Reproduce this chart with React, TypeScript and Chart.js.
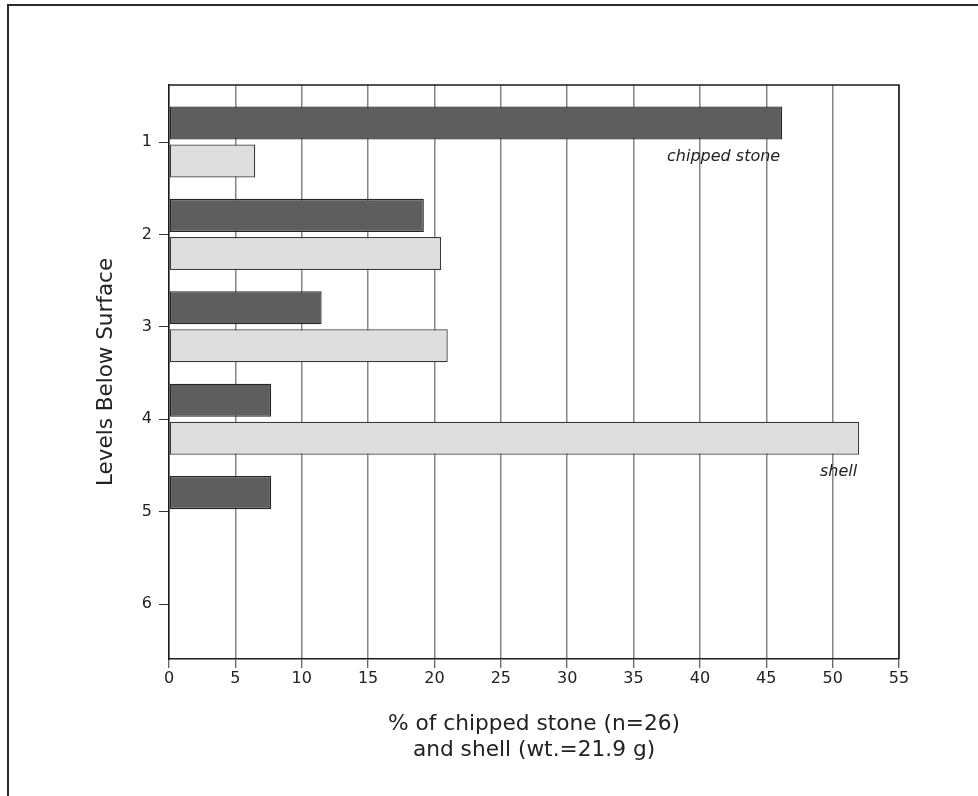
import { useEffect, useRef } from 'react';
import { Chart, registerables } from 'chart.js';

Chart.register(...registerables);

const levels = [1, 2, 3, 4, 5, 6];
const levelLabels = ['1', '2', '3', '4', '5', '6'];
const chippedStone: (number | null)[] = [46.2, 19.2, 11.5, 7.7, 7.7, null];
const shell: (number | null)[] = [6.5, 20.5, 21.0, 52.0, null, null];
const xTickValues = [0, 5, 10, 15, 20, 25, 30, 35, 40, 45, 50, 55];
const seriesNames = ['chipped stone', 'shell'];
const annotations = [
  { dataset: 0, index: 0, text: 'chipped stone' },
  { dataset: 1, index: 3, text: 'shell' },
];

const FONT = "'DejaVu Sans', 'Liberation Sans', sans-serif";

const frameAndLabels = {
  id: 'frameAndLabels',
  afterDraw(chart: any) {
    const { ctx, chartArea } = chart;
    ctx.save();
    ctx.strokeStyle = '#1a1a1a';
    ctx.lineWidth = 1.5;
    ctx.beginPath();
    ctx.moveTo(chartArea.left, chartArea.top);
    ctx.lineTo(chartArea.right, chartArea.top);
    ctx.lineTo(chartArea.right, chartArea.bottom);
    ctx.stroke();
    ctx.fillStyle = '#222';
    ctx.font = `italic 16px ${FONT}`;
    ctx.textAlign = 'right';
    ctx.textBaseline = 'middle';
    for (const a of annotations) {
      const el: any = chart.getDatasetMeta(a.dataset).data[a.index];
      if (!el) continue;
      ctx.fillText(a.text, el.x - 2, el.y + el.height / 2 + 17);
    }
    ctx.restore();
  },
};

export default function App() {
  const ref = useRef<HTMLCanvasElement | null>(null);
  useEffect(() => {
    if (!ref.current) return;
    const chart = new Chart(ref.current, {
      type: 'bar',
      data: {
        datasets: [
          {
            label: seriesNames[0],
            data: levels.map((l, i) => ({ x: chippedStone[i], y: l })) as any,
            backgroundColor: '#5e5e5e',
            borderColor: '#262626',
            borderWidth: 1.3,
            borderSkipped: false,
          },
          {
            label: seriesNames[1],
            data: levels.map((l, i) => ({ x: shell[i], y: l })) as any,
            backgroundColor: '#dedede',
            borderColor: '#3a3a3a',
            borderWidth: 1.3,
            borderSkipped: false,
          },
        ],
      },
      options: {
        indexAxis: 'y',
        animation: false,
        responsive: false,
        categoryPercentage: 0.823,
        barPercentage: 0.87,
        layout: { padding: { left: 86, top: 85, right: 79, bottom: 30 } },
        plugins: { legend: { display: false }, tooltip: { enabled: false } },
        scales: {
          x: {
            type: 'linear',
            min: 0,
            max: 55,
            afterBuildTicks: (s: any) => {
              s.ticks = xTickValues.map((v) => ({ value: v }));
            },
            afterFit: (s: any) => {
              s.height = 107;
            },
            grid: {
              color: '#858585',
              lineWidth: 1.5,
              drawTicks: true,
              tickLength: 9,
              tickColor: '#333',
              tickWidth: 1,
            },
            border: { display: true, color: '#1a1a1a', width: 1.5 },
            ticks: {
              color: '#222',
              padding: 1,
              font: { family: FONT, size: 16 },
            },
            title: {
              display: true,
              text: ['% of chipped stone (n=26)', 'and shell (wt.=21.9 g)'],
              color: '#222',
              padding: { top: 0, bottom: 3 },
              font: { family: FONT, size: 21.7, lineHeight: 1.18 },
            },
          },
          y: {
            type: 'linear',
            reverse: true,
            offset: false,
            min: 0.383,
            max: 6.595,
            afterBuildTicks: (s: any) => {
              s.ticks = levels.map((v) => ({ value: v }));
            },
            afterFit: (s: any) => {
              s.width = 83;
            },
            grid: {
              offset: false,
              drawOnChartArea: false,
              drawTicks: true,
              tickLength: 10,
              tickColor: '#333',
              tickWidth: 1,
            },
            border: { display: true, color: '#1a1a1a', width: 1.5 },
            ticks: {
              color: '#222',
              padding: 7,
              font: { family: FONT, size: 16 },
              callback: (v: any) => levelLabels[levels.indexOf(Number(v))] ?? '',
            },
            title: {
              display: true,
              text: 'Levels Below Surface',
              color: '#222',
              padding: { top: 8, bottom: 0 },
              font: { family: FONT, size: 21.5, lineHeight: 1.2 },
            },
          },
        },
      },
      plugins: [frameAndLabels],
    });
    return () => chart.destroy();
  }, []);

  return (
    <div
      style={{
        position: 'fixed',
        left: 0,
        top: 0,
        width: 978,
        height: 796,
        overflow: 'hidden',
        background: '#fff',
      }}
    >
      <div
        style={{
          position: 'absolute',
          left: 7,
          top: 4,
          width: 1000,
          height: 900,
          borderTop: '2px solid #2b2b2b',
          borderLeft: '2px solid #2b2b2b',
        }}
      />
      <canvas
        ref={ref}
        width={978}
        height={796}
        style={{ position: 'absolute', left: 0, top: 0, width: 978, height: 796 }}
      />
    </div>
  );
}
